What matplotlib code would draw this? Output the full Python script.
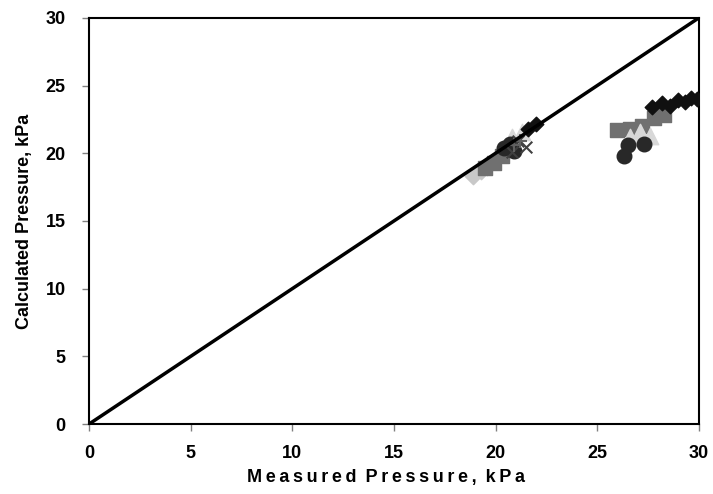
import matplotlib.pyplot as plt

# measured vs calculated pressure (kPa), one list pair per test series
s1_meas = [22.0, 21.6, 27.7, 28.2, 28.6, 29.0, 29.3, 29.6, 29.9]
s1_calc = [22.2, 21.8, 23.4, 23.7, 23.5, 23.9, 23.8, 24.1, 24.0]

s2_meas = [19.5, 19.9, 20.3, 26.0, 26.6, 27.2, 27.8, 28.3]
s2_calc = [18.9, 19.3, 19.8, 21.7, 21.8, 22.0, 22.6, 22.8]

s3_meas = [20.8, 21.3, 26.6, 27.1, 27.6]
s3_calc = [21.2, 21.6, 21.2, 21.6, 21.3]

s4_meas = [21.5, 21.1, 20.8]
s4_calc = [20.5, 20.9, 20.1]

s5_meas = [20.4, 20.7, 20.9, 26.3, 26.5, 27.3]
s5_calc = [20.4, 20.7, 20.2, 19.8, 20.6, 20.7]

s6_meas = [18.9, 19.3, 19.6]
s6_calc = [18.3, 18.7, 19.0]

s7_meas = [20.9, 21.2]
s7_calc = [20.6, 20.9]

FONT = ["Liberation Sans", "DejaVu Sans"]

fig = plt.figure(figsize=(7.13, 4.94), dpi=100)
ax = fig.add_axes([0.125, 0.1417, 0.855, 0.822])

ax.plot([0, 30], [0, 30], color="black", lw=2.5, zorder=5)

ax.scatter(s6_meas, s6_calc, marker="D", s=70, color="#c8c8c8", zorder=2)
ax.scatter(s2_meas, s2_calc, marker="s", s=110, color="#707070", zorder=2)
ax.scatter(s3_meas, s3_calc, marker="^", s=140, color="#d8d8d8", zorder=2)
ax.scatter(s5_meas, s5_calc, marker="o", s=110, color="#282828", zorder=3)
ax.scatter(s1_meas, s1_calc, marker="D", s=55, color="#101010", zorder=4)
ax.scatter(s4_meas, s4_calc, marker="x", s=70, color="#404040", lw=1.5, zorder=4)
ax.scatter(s7_meas, s7_calc, marker="+", s=90, color="#606060", lw=1.5, zorder=4)

ax.set_xlim(0, 30)
ax.set_ylim(0, 30)
ax.set_xticks(range(0, 31, 5))
ax.set_yticks(range(0, 31, 5))

for sp in ax.spines.values():
    sp.set_linewidth(1.5)

ax.tick_params(direction="out", length=5, color="#808080", width=1)
ax.tick_params(axis="x", pad=10)
ax.tick_params(axis="y", pad=12)
for lbl in ax.get_xticklabels() + ax.get_yticklabels():
    lbl.set_fontfamily(FONT)
    lbl.set_fontweight("bold")
    lbl.set_fontsize(13)

# letter-spaced x title
xtitle = "\u2009".join("Measured Pressure, kPa").replace("\u2009 \u2009", "\u2002")
ax.set_xlabel(xtitle, fontfamily=FONT, fontweight="bold", fontsize=13)
ax.xaxis.set_label_coords(0.487, -0.112)
ax.set_ylabel("Calculated Pressure, kPa", fontfamily=FONT,
              fontweight="bold", fontsize=13, labelpad=9)

fig.savefig("out.png", dpi=100)
